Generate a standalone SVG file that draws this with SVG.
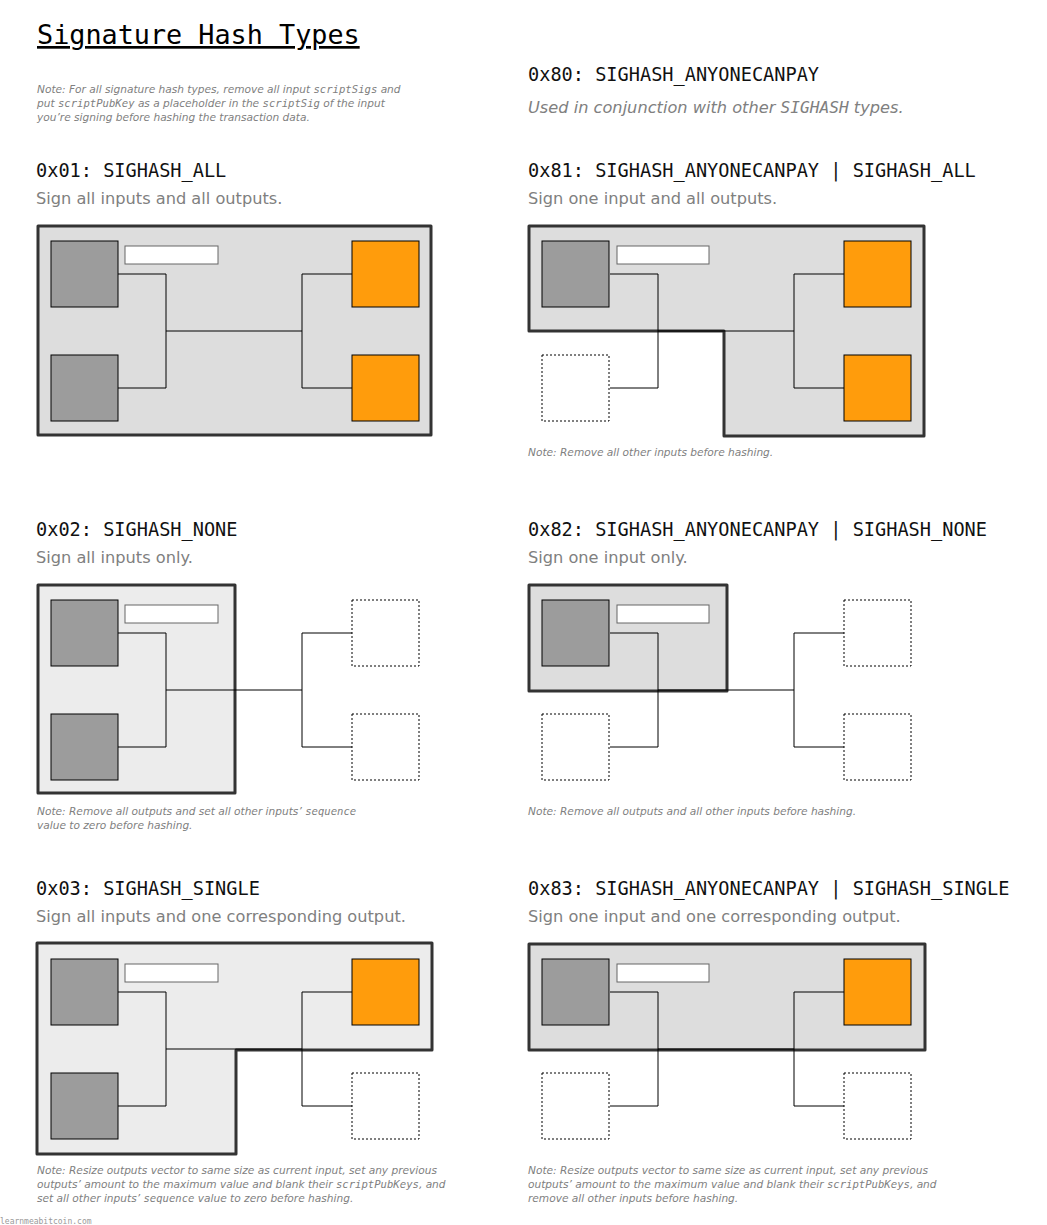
<svg xmlns="http://www.w3.org/2000/svg" width="1047" height="1225" viewBox="0 0 1047 1225">
<style>
.t{font-family:"DejaVu Sans Mono",monospace;fill:#000}
.h{font-family:"DejaVu Sans Mono",monospace;font-size:18.6px;fill:#111}
.s{font-family:"DejaVu Sans",sans-serif;font-size:16.2px;fill:#808080}
.n{font-family:"DejaVu Sans",sans-serif;font-size:10.6px;font-style:italic;fill:#808080}
.m{font-family:"DejaVu Sans Mono",monospace}
.p1{fill:#dddddd;stroke:#333;stroke-width:3;stroke-linejoin:round}
.p2{fill:#ececec;stroke:#333;stroke-width:3;stroke-linejoin:round}
.in{fill:#9c9c9c;stroke:#000;stroke-width:1}
.out{fill:#ff9c0c;stroke:#000;stroke-width:1}
.e{fill:#fff;stroke:#000;stroke-width:1;stroke-dasharray:2,2}
.tb{fill:#fff;stroke:#666;stroke-width:1}
.w{fill:none;stroke:#000;stroke-width:1}
</style>
<defs>
<g id="wires">
<path class="w" d="M118,274H166V388H118M166,331H302M352,274H302V388H352"/>
</g>
</defs>
<text class="t" x="37" y="44" font-size="26.8" text-decoration="underline">Signature Hash Types</text>
<text class="n" x="37" y="93">Note: For all signature hash types, remove all input <tspan class="m">scriptSigs</tspan> and</text>
<text class="n" x="37" y="107">put <tspan class="m">scriptPubKey</tspan> as a placeholder in the <tspan class="m">scriptSig</tspan> of the input</text>
<text class="n" x="37" y="121">you’re signing before hashing the transaction data.</text>
<text class="h" x="528" y="81">0x80: SIGHASH_ANYONECANPAY</text>
<text class="s" x="528" y="113" font-style="italic">Used in conjunction with other <tspan class="m">SIGHASH</tspan> types.</text>

<text class="h" x="36" y="177">0x01: SIGHASH_ALL</text>
<text class="s" x="36" y="204">Sign all inputs and all outputs.</text>
<text class="h" x="528" y="177">0x81: SIGHASH_ANYONECANPAY | SIGHASH_ALL</text>
<text class="s" x="528" y="204">Sign one input and all outputs.</text>
<text class="h" x="36" y="536">0x02: SIGHASH_NONE</text>
<text class="s" x="36" y="563">Sign all inputs only.</text>
<text class="h" x="528" y="536">0x82: SIGHASH_ANYONECANPAY | SIGHASH_NONE</text>
<text class="s" x="528" y="563">Sign one input only.</text>
<text class="h" x="36" y="895">0x03: SIGHASH_SINGLE</text>
<text class="s" x="36" y="922">Sign all inputs and one corresponding output.</text>
<text class="h" x="528" y="895">0x83: SIGHASH_ANYONECANPAY | SIGHASH_SINGLE</text>
<text class="s" x="528" y="922">Sign one input and one corresponding output.</text>

<g id="all">
<rect class="p1" x="38" y="226" width="393" height="209"/>
<g id="connectors-all"><use href="#wires"/></g>
<rect class="in" x="51" y="241" width="67" height="66"/><rect class="in" x="51" y="355" width="67" height="66"/>
<rect class="tb" x="125" y="246" width="93" height="18"/>
<rect class="out" x="352" y="241" width="67" height="66"/><rect class="out" x="352" y="355" width="67" height="66"/>
</g>
<g id="acp-all" transform="translate(492,0)">
<path class="p1" d="M37,226H432V436H232V331H37Z"/>
<g id="connectors-acp-all"><use href="#wires"/></g>
<rect class="in" x="50" y="241" width="67" height="66"/><rect class="e" x="50" y="355" width="67" height="66"/>
<rect class="tb" x="125" y="246" width="92" height="18"/>
<rect class="out" x="352" y="241" width="67" height="66"/><rect class="out" x="352" y="355" width="67" height="66"/>
</g>
<text class="n" x="528" y="456">Note: Remove all other inputs before hashing.</text>

<g id="none" transform="translate(0,359)">
<rect class="p2" x="38" y="226" width="197" height="208"/>
<g id="connectors-none"><use href="#wires"/></g>
<rect class="in" x="51" y="241" width="67" height="66"/><rect class="in" x="51" y="355" width="67" height="66"/>
<rect class="tb" x="125" y="246" width="93" height="18"/>
<rect class="e" x="352" y="241" width="67" height="66"/><rect class="e" x="352" y="355" width="67" height="66"/>
</g>
<text class="n" x="37" y="815">Note: Remove all outputs and set all other inputs’ <tspan class="m">sequence</tspan></text>
<text class="n" x="37" y="829">value to zero before hashing.</text>
<g id="acp-none" transform="translate(492,359)">
<rect class="p1" x="37" y="226" width="198" height="106"/>
<g id="connectors-acp-none"><use href="#wires"/></g>
<rect class="in" x="50" y="241" width="67" height="66"/><rect class="e" x="50" y="355" width="67" height="66"/>
<rect class="tb" x="125" y="246" width="92" height="18"/>
<rect class="e" x="352" y="241" width="67" height="66"/><rect class="e" x="352" y="355" width="67" height="66"/>
</g>
<text class="n" x="528" y="815">Note: Remove all outputs and all other inputs before hashing.</text>

<g id="single" transform="translate(0,718)">
<path class="p2" d="M37,225H432V332H236V436H37Z"/>
<g id="connectors-single"><use href="#wires"/></g>
<rect class="in" x="51" y="241" width="67" height="66"/><rect class="in" x="51" y="355" width="67" height="66"/>
<rect class="tb" x="125" y="246" width="93" height="18"/>
<rect class="out" x="352" y="241" width="67" height="66"/><rect class="e" x="352" y="355" width="67" height="66"/>
</g>
<text class="n" x="37" y="1174">Note: Resize outputs vector to same size as current input, set any previous</text>
<text class="n" x="37" y="1188">outputs’ amount to the maximum value and blank their <tspan class="m">scriptPubKeys</tspan>, and</text>
<text class="n" x="37" y="1202">set all other inputs’ <tspan class="m">sequence</tspan> value to zero before hashing.</text>
<g id="acp-single" transform="translate(492,718)">
<rect class="p1" x="37" y="226" width="396" height="106"/>
<g id="connectors-acp-single"><use href="#wires"/></g>
<rect class="in" x="50" y="241" width="67" height="66"/><rect class="e" x="50" y="355" width="67" height="66"/>
<rect class="tb" x="125" y="246" width="92" height="18"/>
<rect class="out" x="352" y="241" width="67" height="66"/><rect class="e" x="352" y="355" width="67" height="66"/>
</g>
<text class="n" x="528" y="1174">Note: Resize outputs vector to same size as current input, set any previous</text>
<text class="n" x="528" y="1188">outputs’ amount to the maximum value and blank their <tspan class="m">scriptPubKeys</tspan>, and</text>
<text class="n" x="528" y="1202">remove all other inputs before hashing.</text>
<text x="0" y="1224" font-family="DejaVu Sans Mono,monospace" font-size="8" fill="#999">learnmeabitcoin.com</text>
</svg>
